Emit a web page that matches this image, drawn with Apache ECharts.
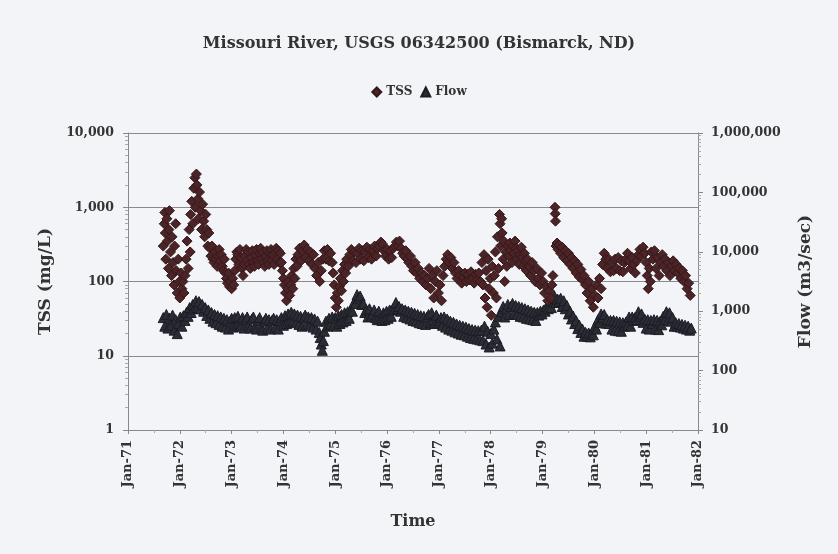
<!DOCTYPE html>
<html>
<head>
<meta charset="utf-8">
<script src="https://cdn.jsdelivr.net/npm/echarts@6/dist/echarts.min.js"></script>
<style>
html,body{margin:0;padding:0;background:#f2f4f7;}
#chart{width:838px;height:554px;}
</style>
</head>
<body>
<div id="chart"></div>
<script>
// x = year (19xx, decimal), y = value
const titleText = 'Missouri River, USGS 06342500 (Bismarck, ND)';
const xTickYears = [71,72,73,74,75,76,77,78,79,80,81,82];
const tssTicks = [1,10,100,1000,10000];
const flowTicks = [10,100,1000,10000,100000,1000000];

// TSS (mg/L)
const tss = [
[71.68,300],[71.70,600],[71.71,850],[71.72,450],[71.73,200],[71.75,700],[71.76,350],[71.78,150],[71.79,500],[71.80,900],
[71.82,250],[71.84,120],[71.85,400],[71.87,180],[71.89,90],[71.90,300],[71.92,600],[71.93,140],[71.95,70],[71.97,200],
[71.99,100],[72.00,60],[72.02,130],[72.04,80],[72.06,100],[72.08,70],
[72.10,120],[72.12,200],[72.14,350],[72.16,150],[72.18,500],[72.20,250],[72.21,800],[72.23,1200],[72.25,600],[72.27,1800],
[72.29,2500],[72.30,1000],[72.32,2800],[72.33,2000],[72.35,1300],[72.36,700],[72.38,1600],[72.40,900],[72.42,500],[72.44,1100],
[72.46,650],[72.48,400],[72.50,800],[72.52,500],[72.54,300],[72.56,450],[72.58,280],[72.60,220],[72.62,300],[72.64,200],
[72.66,180],[72.68,250],[72.70,200],[72.72,160],[72.74,220],[72.76,270],[72.78,190],[72.80,230],[72.82,160],[72.84,140],[72.86,200],
[72.88,130],[72.90,110],[72.92,95],[72.94,130],[72.96,85],[72.98,100],[73.00,80],[73.02,110],[73.04,90],[73.06,140],[73.08,200],[73.10,250],
[73.12,230],[73.14,170],[73.16,270],[73.18,210],[73.20,150],[73.22,120],[73.24,170],[73.26,220],[73.28,270],[73.30,190],
[73.32,250],[73.34,170],[73.36,150],[73.38,210],[73.40,260],[73.42,180],[73.44,160],[73.46,230],[73.48,270],[73.50,190],
[73.52,170],[73.54,240],[73.56,280],[73.58,200],[73.60,250],[73.62,180],[73.64,160],[73.66,220],[73.68,260],[73.70,190],
[73.72,170],[73.74,240],[73.76,270],[73.78,190],[73.80,230],[73.82,170],[73.84,250],[73.86,280],[73.88,200],[73.90,260],
[73.92,180],[73.94,240],
[73.96,180],[73.98,140],[74.00,110],[74.02,90],[74.04,70],[74.06,55],[74.08,80],[74.10,100],[74.12,65],[74.14,90],
[74.16,120],[74.18,80],[74.20,150],[74.22,110],[74.24,200],[74.26,160],
[74.28,230],[74.31,280],[74.34,190],[74.37,260],[74.40,310],[74.43,210],[74.46,270],[74.49,190],[74.52,250],[74.55,170],
[74.58,230],[74.61,150],[74.64,120],[74.67,180],[74.70,100],[74.73,140],[74.76,200],[74.79,260],[74.82,200],[74.85,270],
[74.88,190],[74.91,240],
[74.94,180],[74.96,130],[74.98,90],[75.00,60],[75.02,45],[75.04,70],[75.06,55],[75.08,85],[75.10,110],[75.12,75],
[75.14,140],[75.16,100],[75.18,170],[75.20,130],[75.22,200],[75.25,160],[75.28,230],
[75.31,270],[75.34,190],[75.37,250],[75.40,180],[75.43,240],[75.46,280],[75.49,200],[75.52,260],[75.55,190],[75.58,250],
[75.61,290],[75.64,210],[75.67,270],[75.70,200],[75.73,260],[75.76,300],[75.79,220],[75.82,280],[75.85,300],[75.88,340],
[75.91,320],[75.94,260],[75.97,220],[76.00,270],[76.03,200],[76.06,260],[76.09,210],[76.12,280],[76.15,300],[76.18,340],
[76.21,300],[76.24,350],[76.27,280],[76.30,240],
[76.33,220],[76.36,260],[76.39,200],[76.42,180],[76.45,220],[76.48,160],[76.51,140],[76.54,180],[76.57,130],[76.60,150],
[76.63,110],[76.66,130],[76.69,100],[76.72,120],[76.75,90],[76.78,110],
[76.81,150],[76.84,80],[76.87,120],[76.90,60],[76.93,100],[76.96,140],[76.99,70],[77.02,90],[77.05,55],[77.08,120],
[77.11,160],[77.14,200],[77.17,230],[77.20,180],[77.23,210],[77.26,150],[77.29,180],[77.32,130],[77.35,110],[77.38,140],
[77.41,120],[77.44,95],[77.47,115],[77.50,130],[77.53,100],[77.56,125],[77.59,105],[77.62,135],[77.65,110],[77.68,95],
[77.71,125],[77.74,105],[77.77,130],[77.80,100],
[77.83,180],[77.85,90],[77.87,230],[77.89,60],[77.91,140],[77.93,45],[77.95,200],[77.97,80],[77.99,110],[78.01,35],
[78.03,160],[78.05,70],
[78.07,120],[78.09,250],[78.11,60],[78.13,400],[78.15,150],[78.17,800],[78.18,600],[78.19,300],[78.21,700],[78.22,450],
[78.24,200],[78.25,350],[78.27,100],[78.29,250],[78.31,160],[78.33,300],
[78.35,220],[78.37,330],[78.39,260],[78.41,180],[78.43,300],[78.45,240],[78.47,350],[78.49,280],[78.51,200],[78.53,260],
[78.55,170],[78.57,230],[78.59,290],[78.61,210],[78.63,160],[78.65,240],[78.67,190],[78.69,140],[78.71,200],
[78.74,160],[78.77,120],[78.80,180],[78.83,140],[78.86,100],[78.89,150],[78.92,110],[78.95,90],[78.98,130],[79.01,100],
[79.04,70],[79.07,85],[79.10,55],[79.13,75],[79.16,60],[79.18,90],[79.20,120],
[79.24,1000],[79.245,820],[79.25,650],[79.26,300],
[79.28,330],[79.30,270],[79.32,310],[79.35,240],[79.38,290],[79.41,210],[79.44,260],[79.47,190],[79.50,240],[79.53,170],
[79.56,210],[79.59,150],[79.62,190],[79.65,130],[79.68,170],[79.71,115],[79.74,145],[79.77,105],
[79.80,120],[79.83,90],[79.86,70],[79.89,100],[79.92,55],[79.95,80],[79.98,45],[80.01,65],[80.04,90],[80.07,60],
[80.10,110],[80.13,80],
[80.16,170],[80.19,240],[80.22,200],[80.25,150],[80.28,200],[80.31,135],[80.34,180],[80.37,140],[80.40,200],[80.43,150],
[80.46,210],[80.49,140],[80.52,190],[80.55,135],[80.58,180],[80.61,200],[80.64,240],
[80.67,190],[80.70,150],[80.73,210],[80.76,170],[80.79,130],[80.82,190],[80.85,230],[80.88,270],[80.91,220],[80.94,290],
[80.97,240],[81.00,180],[81.02,120],[81.04,80],[81.06,150],[81.08,100],
[81.10,250],[81.13,200],[81.16,260],[81.19,150],[81.22,210],[81.25,120],[81.28,180],[81.31,230],
[81.34,160],[81.37,200],[81.40,140],[81.43,180],[81.46,120],[81.49,160],[81.52,190],[81.55,140],[81.58,170],[81.61,130],
[81.64,150],[81.67,110],[81.70,140],[81.73,100],[81.76,120],[81.79,80],[81.82,95],[81.85,65]
];

// Flow (m3/sec)
const flow = [
[71.68,780],[71.71,560],[71.74,880],[71.77,520],[71.80,760],[71.83,580],[71.86,860],[71.89,480],[71.92,720],[71.95,420],
[71.98,620],[72.01,800],[72.04,560],[72.07,840],[72.10,700],[72.13,960],
[72.16,820],[72.19,1150],[72.22,950],[72.25,1300],[72.28,1100],[72.31,1500],[72.34,1150],[72.37,1450],[72.40,1100],[72.43,1300],
[72.46,1000],[72.49,1150],[72.52,850],
[72.55,1050],[72.58,760],[72.61,950],[72.64,680],[72.67,880],[72.70,640],[72.73,840],[72.76,600],[72.79,800],[72.82,560],
[72.85,760],[72.88,540],[72.91,720],[72.94,500],[72.97,680],[73.00,760],[73.03,540],[73.06,780],[73.09,580],[73.12,820],
[73.15,620],[73.18,560],[73.21,780],[73.24,520],[73.27,720],[73.30,800],[73.33,580],[73.36,520],[73.39,740],[73.42,800],
[73.45,560],[73.48,500],[73.51,700],[73.54,780],[73.57,540],[73.60,480],[73.63,680],[73.66,760],[73.69,520],[73.72,720],
[73.75,500],[73.78,700],[73.81,760],[73.84,540],[73.87,720],[73.90,500],[73.93,700],[73.96,780],
[74.00,580],[74.03,840],[74.06,620],[74.09,900],[74.12,660],[74.15,960],[74.18,680],[74.21,900],[74.24,640],[74.27,860],
[74.30,600],[74.33,820],[74.36,560],[74.39,780],[74.42,860],[74.45,600],[74.48,800],[74.51,580],[74.54,780],[74.57,540],
[74.60,740],[74.63,500],[74.66,680],[74.69,440],[74.71,360],[74.73,280],[74.75,220],[74.77,320],[74.79,460],[74.82,680],
[74.85,560],[74.88,760],[74.91,600],[74.94,800],[74.97,580],
[75.00,780],[75.03,560],[75.06,840],[75.09,620],[75.12,880],[75.15,660],[75.18,940],[75.21,700],[75.24,980],[75.27,760],
[75.30,1050],[75.33,1000],[75.36,1400],[75.39,1350],[75.42,1900],[75.45,1650],[75.48,1800],[75.51,1300],[75.54,1350],[75.57,950],
[75.60,1050],[75.63,800],[75.66,1100],[75.69,820],[75.72,900],[75.75,1050],[75.78,780],[75.81,720],[75.84,1000],[75.87,760],
[75.90,700],[75.93,940],[75.96,720],[75.99,1000],[76.02,760],[76.05,1050],[76.08,820],[76.11,1100],[76.14,1050],[76.17,1400],
[76.20,1100],[76.23,1200],[76.26,1000],[76.29,1100],[76.32,820],
[76.35,1050],[76.38,780],[76.41,1000],[76.44,740],[76.47,960],[76.50,700],[76.53,920],[76.56,680],[76.59,880],[76.62,640],
[76.65,840],[76.68,620],[76.71,820],[76.74,600],[76.77,800],[76.80,880],[76.83,640],[76.86,940],[76.89,700],[76.92,620],
[76.95,860],[76.98,640],[77.01,700],
[77.04,780],[77.07,580],[77.10,800],[77.13,540],[77.16,740],[77.19,500],[77.22,680],[77.25,480],[77.28,650],[77.31,450],
[77.34,610],[77.37,430],[77.40,580],[77.43,410],[77.46,560],[77.49,400],[77.52,540],[77.55,380],[77.58,510],[77.61,360],
[77.64,490],[77.67,350],[77.70,480],[77.73,340],[77.76,470],[77.79,330],
[77.82,480],[77.85,320],[77.88,560],[77.91,280],[77.94,460],[77.97,250],[78.00,420],[78.03,290],
[78.06,500],[78.09,660],[78.12,340],[78.15,820],[78.18,260],[78.21,980],[78.24,1200],[78.27,800],[78.30,1100],
[78.33,1300],[78.36,880],[78.39,1200],[78.42,1350],[78.45,920],[78.48,1250],[78.51,880],[78.54,1200],[78.57,820],[78.60,1150],
[78.63,800],[78.66,1100],[78.69,760],[78.72,1050],[78.75,740],[78.78,1000],[78.81,720],[78.84,960],
[78.87,700],[78.90,950],[78.93,860],[78.96,1000],[78.99,900],[79.02,1050],[79.05,1000],[79.08,1200],[79.11,1100],[79.14,1500],
[79.17,1150],[79.20,1650],[79.23,1800],[79.26,1400],[79.29,1600],[79.32,1450],[79.35,1650],
[79.38,1200],[79.41,1500],[79.44,1100],[79.47,1250],[79.50,900],[79.53,1000],[79.56,740],[79.59,830],[79.62,620],[79.65,690],
[79.68,510],[79.71,580],[79.74,440],[79.77,500],[79.80,380],[79.83,440],[79.86,380],[79.89,430],[79.92,370],[79.95,420],
[79.98,400],[80.01,560],[80.04,500],[80.07,720],[80.10,640],[80.13,900],[80.16,780],[80.19,880],[80.22,630],[80.25,720],
[80.28,620],[80.31,700],[80.34,500],[80.37,700],[80.40,480],[80.43,680],[80.46,470],[80.49,660],[80.52,460],[80.55,640],
[80.58,560],[80.61,660],[80.64,580],[80.67,800],[80.70,560],[80.73,800],[80.76,700],[80.79,800],[80.82,720],[80.85,980],
[80.88,820],[80.91,900],[80.94,650],[80.97,740],[81.00,520],[81.03,720],[81.06,500],[81.09,700],[81.12,620],[81.15,720],
[81.18,500],[81.21,700],[81.24,490],[81.27,680],[81.30,590],[81.33,820],[81.36,720],[81.39,980],[81.42,700],[81.45,940],
[81.48,680],[81.51,780],[81.54,560],[81.57,640],[81.60,560],[81.63,620],[81.66,540],[81.69,600],[81.72,520],[81.75,580],
[81.78,500],[81.81,560],[81.84,480],[81.87,520]
];

const serif = "'DejaVu Serif','Liberation Serif',serif";
const fmtNum = v => Number(v).toLocaleString('en-US');

const chart = echarts.init(document.getElementById('chart'), null, {renderer: 'canvas'});
chart.setOption({
  backgroundColor: '#f2f4f7',
  animation: false,
  title: {
    text: titleText, left: 'center', top: 31,
    textStyle: {fontFamily: serif, fontWeight: 'bold', fontSize: 16, color: '#333'}
  },
  legend: {
    top: 81, left: 'center', itemGap: 8, itemWidth: 9, itemHeight: 9,
    textStyle: {fontFamily: serif, fontWeight: 'bold', fontSize: 12, color: '#333'},
    data: [{name: 'TSS', icon: 'diamond'}, {name: 'Flow', icon: 'triangle'}]
  },
  grid: {left: 128, right: 140, top: 133, bottom: 124},
  xAxis: {
    type: 'value', min: 71, max: 82, interval: 1,
    name: 'Time', nameLocation: 'middle', nameGap: 84,
    nameTextStyle: {fontFamily: serif, fontWeight: 'bold', fontSize: 16, color: '#333'},
    axisLine: {show: true, lineStyle: {color: '#888'}},
    axisTick: {show: true, inside: false, length: 4, lineStyle: {color: '#888'}},
    minorTick: {show: true, splitNumber: 2, length: 3, lineStyle: {color: '#aaa'}},
    splitLine: {show: false},
    axisLabel: {
      rotate: 90, margin: 10, fontFamily: serif, fontWeight: 'bold', fontSize: 13, color: '#333',
      formatter: v => xTickYears.includes(v) ? 'Jan-' + v : ''
    }
  },
  yAxis: [
    {
      type: 'log', logBase: 10, min: tssTicks[0], max: tssTicks[tssTicks.length - 1],
      name: 'TSS (mg/L)', nameLocation: 'middle', nameGap: 74, nameRotate: 90,
      nameTextStyle: {fontFamily: serif, fontWeight: 'bold', fontSize: 17, color: '#333'},
      axisLine: {show: true, lineStyle: {color: '#888'}},
      axisTick: {show: true, length: 5, lineStyle: {color: '#888'}},
      minorTick: {show: true, splitNumber: 9, length: 3, lineStyle: {color: '#aaa'}},
      splitLine: {show: true, lineStyle: {color: '#8a8a8a', width: 1}},
      axisLabel: {fontFamily: serif, fontWeight: 'bold', fontSize: 12.5, color: '#333', margin: 14, formatter: fmtNum}
    },
    {
      type: 'log', logBase: 10, min: flowTicks[0], max: flowTicks[flowTicks.length - 1],
      position: 'right',
      name: 'Flow (m3/sec)', nameLocation: 'middle', nameGap: 99, nameRotate: 90,
      nameTextStyle: {fontFamily: serif, fontWeight: 'bold', fontSize: 17, color: '#333'},
      axisLine: {show: true, lineStyle: {color: '#888'}},
      axisTick: {show: true, length: 5, lineStyle: {color: '#888'}},
      minorTick: {show: true, splitNumber: 9, length: 3, lineStyle: {color: '#aaa'}},
      splitLine: {show: false},
      axisLabel: {fontFamily: serif, fontWeight: 'bold', fontSize: 12.5, color: '#333', margin: 13, formatter: fmtNum}
    }
  ],
  series: [
    {
      name: 'TSS', type: 'scatter', yAxisIndex: 0, symbol: 'diamond', symbolSize: 10,
      itemStyle: {color: '#4c2326', borderColor: '#33181a', borderWidth: 1, opacity: 1},
      data: tss, z: 3
    },
    {
      name: 'Flow', type: 'scatter', yAxisIndex: 1, symbol: 'triangle', symbolSize: 10,
      itemStyle: {color: '#2c2c36', borderColor: '#1c1c24', borderWidth: 1, opacity: 1},
      data: flow, z: 2
    }
  ]
});
</script>
</body>
</html>
